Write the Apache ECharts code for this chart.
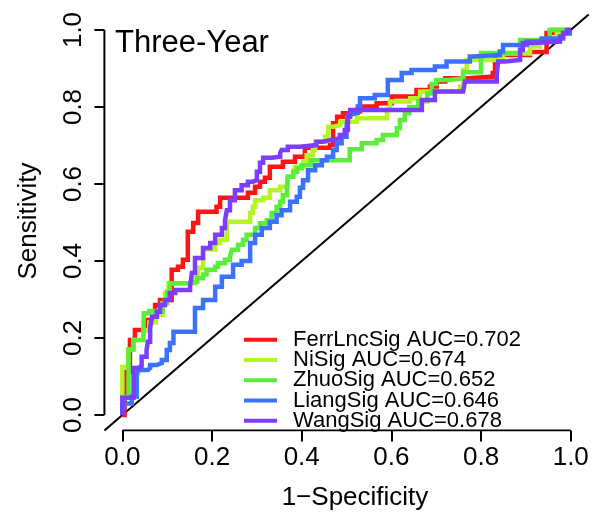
<!DOCTYPE html>
<html>
<head>
<meta charset="utf-8">
<script src="https://cdn.jsdelivr.net/npm/echarts@6/dist/echarts.min.js"></script>
<style>
  html, body { margin: 0; padding: 0; background: #fff; }
  #chart { width: 597px; height: 516px; }
</style>
</head>
<body>
<div id="chart"></div>
<script>
// ROC curves (three-year survival) for five prognostic signatures.
const signatureNames = ['FerrLncSig', 'NiSig', 'ZhuoSig', 'LiangSig', 'WangSig'];
const aucValues = [0.702, 0.674, 0.652, 0.646, 0.678];
const curveColors = ['#ff1414', '#b5f525', '#5ced3a', '#3a72ff', '#7b3dff'];
const tickValues = [0, 0.2, 0.4, 0.6, 0.8, 1.0];

// Each curve: corner points of the staircase (1-specificity, sensitivity).
const ferrFpr = [0, 0.005, 0.017, 0.028, 0.051, 0.073, 0.084, 0.110, 0.124, 0.135, 0.146, 0.158, 0.169, 0.210, 0.218, 0.280, 0.296, 0.307, 0.318, 0.329, 0.358, 0.385, 0.407, 0.463, 0.470, 0.479, 0.492, 0.508, 0.530, 0.567, 0.601, 0.656, 0.686, 0.701, 0.720, 0.771, 0.826, 0.831, 0.909, 0.946, 0.960, 1];
const ferrTpr = [0, 0.112, 0.195, 0.221, 0.247, 0.286, 0.299, 0.377, 0.385, 0.403, 0.476, 0.499, 0.528, 0.541, 0.564, 0.577, 0.593, 0.606, 0.616, 0.645, 0.658, 0.671, 0.694, 0.701, 0.758, 0.775, 0.784, 0.788, 0.801, 0.810, 0.827, 0.844, 0.853, 0.866, 0.875, 0.879, 0.888, 0.935, 0.943, 0.992, 1, 1];

const niFpr = [0, 0, 0.013, 0.025, 0.047, 0.060, 0.075, 0.090, 0.095, 0.103, 0.162, 0.169, 0.180, 0.207, 0.218, 0.233, 0.285, 0.291, 0.296, 0.314, 0.329, 0.352, 0.369, 0.381, 0.385, 0.403, 0.411, 0.425, 0.430, 0.452, 0.459, 0.470, 0.486, 0.523, 0.590, 0.597, 0.642, 0.664, 0.753, 0.760, 0.768, 0.849, 0.909, 0.931, 0.969, 0.976, 1];
const niTpr = [0, 0.125, 0.170, 0.195, 0.221, 0.240, 0.260, 0.290, 0.317, 0.342, 0.356, 0.382, 0.430, 0.447, 0.455, 0.502, 0.525, 0.541, 0.558, 0.564, 0.584, 0.593, 0.619, 0.632, 0.645, 0.658, 0.675, 0.688, 0.710, 0.723, 0.749, 0.753, 0.762, 0.771, 0.792, 0.814, 0.823, 0.840, 0.853, 0.896, 0.922, 0.939, 0.957, 0.970, 0.992, 1, 1];

const zhuoFpr = [0, 0, 0.014, 0.025, 0.047, 0.048, 0.060, 0.090, 0.100, 0.106, 0.147, 0.167, 0.180, 0.188, 0.207, 0.213, 0.229, 0.240, 0.244, 0.258, 0.269, 0.277, 0.296, 0.307, 0.322, 0.333, 0.344, 0.352, 0.358, 0.367, 0.369, 0.381, 0.390, 0.400, 0.420, 0.507, 0.534, 0.567, 0.581, 0.612, 0.619, 0.630, 0.640, 0.660, 0.680, 0.690, 0.700, 0.730, 0.760, 0.800, 0.887, 0.953, 1];
const zhuoTpr = [0, 0.047, 0.170, 0.195, 0.221, 0.264, 0.270, 0.290, 0.320, 0.342, 0.346, 0.355, 0.365, 0.377, 0.385, 0.394, 0.403, 0.411, 0.429, 0.442, 0.455, 0.468, 0.486, 0.498, 0.506, 0.525, 0.541, 0.554, 0.571, 0.590, 0.619, 0.632, 0.641, 0.649, 0.662, 0.690, 0.706, 0.714, 0.727, 0.745, 0.766, 0.784, 0.800, 0.815, 0.835, 0.860, 0.870, 0.875, 0.890, 0.940, 0.974, 1, 1];

const liangFpr = [0, 0.004, 0.021, 0.032, 0.035, 0.057, 0.062, 0.077, 0.088, 0.099, 0.106, 0.114, 0.162, 0.180, 0.207, 0.222, 0.247, 0.266, 0.285, 0.296, 0.311, 0.329, 0.344, 0.355, 0.374, 0.389, 0.396, 0.403, 0.414, 0.430, 0.445, 0.456, 0.470, 0.478, 0.489, 0.500, 0.503, 0.507, 0.525, 0.530, 0.563, 0.592, 0.623, 0.645, 0.697, 0.723, 0.775, 0.782, 0.842, 0.849, 0.902, 0.935, 0.983, 0.998, 1];
const liangTpr = [0, 0.030, 0.048, 0.099, 0.117, 0.122, 0.130, 0.135, 0.143, 0.169, 0.187, 0.216, 0.278, 0.299, 0.333, 0.359, 0.390, 0.400, 0.447, 0.468, 0.486, 0.502, 0.519, 0.532, 0.554, 0.567, 0.590, 0.610, 0.636, 0.649, 0.662, 0.671, 0.688, 0.706, 0.723, 0.749, 0.779, 0.784, 0.801, 0.823, 0.831, 0.870, 0.888, 0.896, 0.905, 0.918, 0.931, 0.935, 0.944, 0.961, 0.970, 0.978, 0.991, 1, 1];

const wangFpr = [0, 0, 0.025, 0.035, 0.043, 0.054, 0.057, 0.062, 0.066, 0.077, 0.084, 0.095, 0.106, 0.118, 0.151, 0.155, 0.162, 0.180, 0.196, 0.207, 0.222, 0.229, 0.233, 0.240, 0.251, 0.266, 0.280, 0.291, 0.300, 0.307, 0.314, 0.333, 0.352, 0.355, 0.369, 0.396, 0.433, 0.447, 0.463, 0.485, 0.496, 0.503, 0.508, 0.668, 0.697, 0.760, 0.764, 0.835, 0.838, 0.853, 0.887, 0.893, 0.916, 0.976, 0.983, 0.992, 1];
const wangTpr = [0, 0.045, 0.122, 0.127, 0.151, 0.169, 0.190, 0.226, 0.255, 0.268, 0.286, 0.299, 0.317, 0.325, 0.333, 0.369, 0.408, 0.434, 0.447, 0.468, 0.486, 0.506, 0.532, 0.558, 0.584, 0.597, 0.606, 0.610, 0.632, 0.655, 0.668, 0.671, 0.681, 0.688, 0.697, 0.701, 0.710, 0.714, 0.719, 0.727, 0.740, 0.775, 0.792, 0.818, 0.840, 0.844, 0.866, 0.883, 0.918, 0.922, 0.948, 0.966, 0.970, 0.983, 0.992, 1, 1];

const curveFpr = [ferrFpr, niFpr, zhuoFpr, liangFpr, wangFpr];
const curveTpr = [ferrTpr, niTpr, zhuoTpr, liangTpr, wangTpr];

// Plot region extends 4% past the unit square on each side.
const AX_MIN = -0.04, AX_MAX = 1.04;
const FONT = "'Liberation Sans', Arial, sans-serif";

const legendNames = signatureNames.map((n, i) => n + ' AUC=' + aucValues[i].toFixed(3));

const helperLine = (data, width) => ({
  type: 'line', data, silent: true, symbol: 'none', z: 1,
  lineStyle: { color: '#000', width }, itemStyle: { color: '#000' },
  animation: false
});

const series = [
  helperLine([[AX_MIN, AX_MIN], [AX_MAX, AX_MAX]], 2),   // reference diagonal
  helperLine([[AX_MIN, 0], [AX_MIN, 1]], 2),            // left axis line
  helperLine([[0, AX_MIN], [1, AX_MIN]], 2)             // bottom axis line
];
legendNames.forEach((name, i) => {
  series.push({
    type: 'line', name, step: 'end', symbol: 'none', showSymbol: false,
    data: curveFpr[i].map((x, j) => [x, curveTpr[i][j]]),
    lineStyle: { color: curveColors[i], width: 4.5, join: 'miter' },
    itemStyle: { color: curveColors[i] },
    z: 2, animation: false
  });
});

const axisCommon = {
  type: 'value', min: AX_MIN, max: AX_MAX,
  splitLine: { show: false },
  axisLine: { show: false, onZero: false },
  axisTick: { show: true, customValues: tickValues, lineStyle: { color: '#000', width: 2 } },
  axisLabel: {
    customValues: tickValues, color: '#000', fontFamily: FONT, fontSize: 26,
    formatter: v => v.toFixed(1)
  }
};

const chart = echarts.init(document.getElementById('chart'), null, { renderer: 'canvas' });
chart.setOption({
  animation: false,
  backgroundColor: '#fff',
  title: {
    text: 'Three-Year', left: 115, top: 28, padding: 0,
    textStyle: { fontFamily: FONT, fontSize: 31, fontWeight: 'normal', color: '#000' }
  },
  grid: { left: 104.4, right: 8.3, top: 14.6, bottom: 85.6, containLabel: false, outerBoundsMode: 'none' },
  xAxis: Object.assign({}, axisCommon, {
    axisTick: Object.assign({}, axisCommon.axisTick, { length: 11 }),
    axisLabel: Object.assign({}, axisCommon.axisLabel, { margin: 14 })
  }),
  yAxis: Object.assign({}, axisCommon, {
    axisTick: Object.assign({}, axisCommon.axisTick, { length: 10 }),
    axisLabel: Object.assign({}, axisCommon.axisLabel, { margin: 18, rotate: 90 })
  }),
  legend: {
    data: legendNames, orient: 'vertical', left: 244, top: 328.7, padding: 0,
    icon: 'rect', itemWidth: 33, itemHeight: 4, itemGap: -1.75,
    itemStyle: { borderWidth: 0 },
    selectedMode: false,
    textStyle: { fontFamily: FONT, fontSize: 22, lineHeight: 20, color: '#000', padding: [0, 0, 0, 11] }
  },
  graphic: [
    {
      type: 'text', x: 355, y: 498, silent: true,
      style: { text: '1\u2212Specificity', font: '26px ' + FONT, fill: '#000', align: 'center', verticalAlign: 'middle' }
    },
    {
      type: 'text', x: 29, y: 221, rotation: Math.PI / 2, silent: true,
      style: { text: 'Sensitivity', font: '26px ' + FONT, fill: '#000', align: 'center', verticalAlign: 'middle' }
    }
  ],
  series
});
</script>
</body>
</html>
